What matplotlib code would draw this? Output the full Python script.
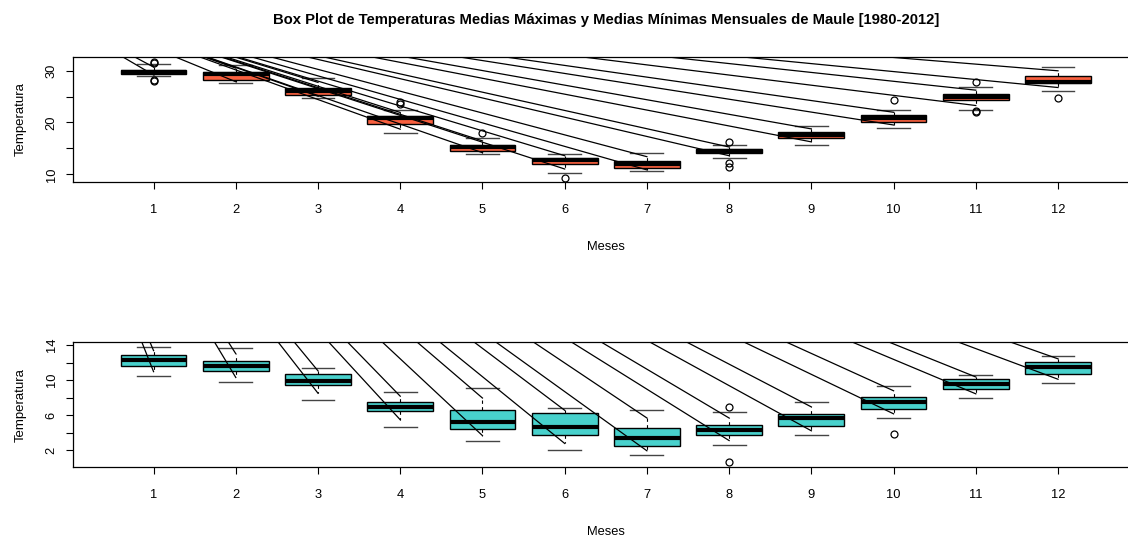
import numpy as np
import matplotlib
matplotlib.use("Agg")
import matplotlib.pyplot as plt

plt.rcParams['font.family'] = ['Liberation Sans', 'DejaVu Sans']
plt.rcParams['font.size'] = 9.3

meses = list(range(1, 13))

# medias maximas
max_lo = [29.0, 27.6, 24.8, 17.9, 13.9, 10.3, 10.6, 13.2, 15.65, 19.0, 22.4, 26.1]
max_q1 = [29.4, 28.2, 25.4, 19.7, 14.5, 11.9, 11.15, 14.05, 17.0, 20.15, 24.35, 27.55]
max_med = [29.8, 29.4, 26.0, 20.8, 15.3, 12.75, 11.9, 14.55, 17.6, 20.9, 25.0, 27.8]
max_q3 = [30.1, 29.75, 26.7, 21.25, 15.65, 13.2, 12.6, 14.8, 18.1, 21.45, 25.5, 28.98]
max_hi = [31.2, 31.1, 28.6, 22.5, 17.1, 13.9, 14.05, 15.65, 19.3, 22.4, 26.85, 30.8]
max_out = [[31.4, 31.7, 28.0, 28.2], [], [], [23.5, 23.9], [18.0], [9.35], [],
           [16.2, 12.1, 11.35], [], [24.4], [27.9, 22.2, 22.0], [24.8]]

# medias minimas
min_lo = [10.46, 9.74, 7.75, 4.67, 3.03, 2.0, 1.47, 2.6, 3.75, 5.69, 7.98, 9.66]
min_q1 = [11.6, 11.0, 9.43, 6.46, 4.44, 3.71, 2.49, 3.71, 4.78, 6.72, 9.0, 10.65]
min_med = [12.3, 11.64, 9.85, 6.95, 5.2, 4.67, 3.4, 4.29, 5.69, 7.49, 9.58, 11.49]
min_q3 = [12.86, 12.2, 10.65, 7.52, 6.54, 6.23, 4.55, 4.86, 6.19, 8.1, 10.08, 12.02]
min_hi = [13.8, 13.7, 11.4, 8.7, 9.12, 6.83, 6.6, 6.34, 7.56, 9.35, 10.6, 12.78]
min_out = [[], [], [], [], [], [], [], [6.95, 0.6], [], [3.83], [], []]

fig = plt.figure(figsize=(11.28, 5.37), dpi=100)
ax1 = fig.add_axes([0.0647, 0.661, 0.9447, 0.2328])
ax2 = fig.add_axes([0.0647, 0.1304, 0.9447, 0.2322])


def panel(ax, lo, q1, med, q3, hi, out, color, ylim, yticks, ylabels):
    stats = []
    for i in range(len(meses)):
        stats.append(dict(med=med[i], q1=q1[i], q3=q3[i], whislo=lo[i],
                          whishi=hi[i], fliers=out[i]))
    ax.bxp(stats, positions=meses, widths=0.8, patch_artist=True,
           showcaps=True,
           boxprops=dict(facecolor=color, edgecolor='black', linewidth=1),
           medianprops=dict(color='black', linewidth=3),
           whiskerprops=dict(visible=False),
           capprops=dict(color='#444444', linewidth=1),
           capwidths=0.4,
           flierprops=dict(marker='o', markersize=5, markerfacecolor='none',
                           markeredgecolor='black', markeredgewidth=0.9))
    ax.set_xlim(0.02, 12.98)
    ax.set_ylim(*ylim)
    ax.set_xticks(meses)
    ax.set_xticklabels([str(m) for m in meses])
    ax.set_yticks(yticks)
    ax.set_yticklabels(ylabels, rotation=90, va='center')
    ax.tick_params(axis='x', length=5, width=0.8, pad=11)
    ax.tick_params(axis='y', length=5, width=0.8, pad=6)
    ax.set_xlabel('Meses', fontsize=9.3, labelpad=18)
    ax.set_ylabel('Temperatura', fontsize=9.5, labelpad=13.7)
    for s in ['top', 'right', 'bottom', 'left']:
        ax.spines[s].set_linewidth(0.9)

    # whiskers (dashed) and the stray lines running to the device corner
    inv = ax.transData.inverted()
    ox, oy = inv.transform(fig.transFigure.transform((0, 1.028)))
    for i, m in enumerate(meses):
        up = q3[i] + 0.55 * (hi[i] - q3[i])
        dn = q1[i] - 0.55 * (q1[i] - lo[i])
        ax.plot([m, m], [q3[i], up], color='black', lw=0.8, ls=(0, (3, 3)),
                scalex=False, scaley=False, zorder=1)
        ax.plot([m, m], [q1[i], dn], color='black', lw=0.8, ls=(0, (3, 3)),
                scalex=False, scaley=False, zorder=1)
        for y in (up, dn):
            ax.plot([ox, m], [oy, y], color='black', lw=0.9,
                    scalex=False, scaley=False, zorder=3)


panel(ax1, max_lo, max_q1, max_med, max_q3, max_hi, max_out, '#F9603F',
      (8.5, 32.64), [10, 15, 20, 25, 30], ['10', '', '20', '', '30'])
panel(ax2, min_lo, min_q1, min_med, min_q3, min_hi, min_out, '#48D1CC',
      (0.08, 14.33), [2, 4, 6, 8, 10, 12, 14], ['2', '', '6', '', '10', '', '14'])

ax1.set_title('Box Plot de Temperaturas Medias Máximas y Medias Mínimas Mensuales de Maule [1980-2012]',
              fontsize=10.7, fontweight='bold', pad=23.8)

fig.savefig('out.png', dpi=100)
